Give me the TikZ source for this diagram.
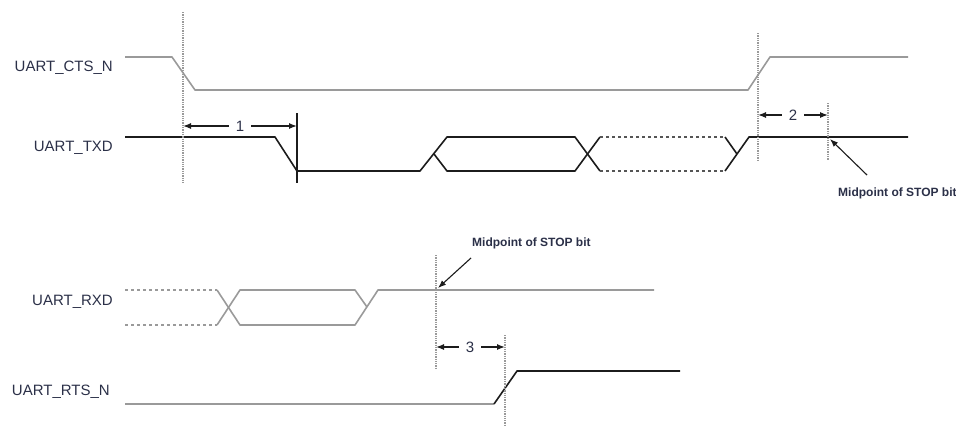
\documentclass[tikz,border=0pt]{standalone}
\usepackage{fontspec}
\setmainfont{Liberation Sans}
\usetikzlibrary{arrows.meta}
\definecolor{sgray}{HTML}{9A9A9A}
\definecolor{sdark}{HTML}{1C1C1C}
\definecolor{smid}{HTML}{555555}
\definecolor{lbl}{HTML}{2B3048}

\begin{document}
\begin{tikzpicture}[x=1pt, y=-1pt,
    every node/.style={inner sep=0pt, text=lbl, font=\fontsize{15}{17}\selectfont},
    wave/.style={line width=1.6pt, line join=round},
    marker/.style={sgray, line width=1.3pt, densely dotted},
    dim/.style={{Latex[length=8pt,width=6pt]}-, line width=1.3pt, sdark},
    pointer/.style={-{Latex[length=8pt,width=6pt]}, line width=1.1pt, sdark},
    note/.style={font=\fontsize{12}{14}\selectfont\bfseries, text=lbl}]
    \useasboundingbox (0,0) rectangle (956,426);

    % signal names
    \node[anchor=east] (cts) at (113,68) {UART\_CTS\_N};
    \node[anchor=east] (txd) at (113,148) {UART\_TXD};
    \node[anchor=east] (rxd) at (113,302) {UART\_RXD};
    \node[anchor=east] (rts) at (110,392) {UART\_RTS\_N};

    % UART_CTS_N
    \draw[wave, sgray] (125,57) -- (172,57) -- (195,90) -- (748,90) -- (770,57) -- (908,57);

    % UART_TXD
    \draw[wave, sdark] (125,137) -- (275,137) -- (297,171) -- (420,171) -- (447,137) -- (575,137) -- (600,171);
    \draw[wave, sdark] (434,154) -- (447,171) -- (575,171) -- (600,137);
    \draw[wave, smid, dashed] (600,137) -- (725,137);
    \draw[wave, smid, dashed] (600,171) -- (725,171);
    \draw[wave, sdark] (725,137) -- (737,154);
    \draw[wave, sdark] (725,171) -- (749,137) -- (908,137);

    % UART_RXD
    \draw[wave, sgray, dashed] (125,290) -- (217,290);
    \draw[wave, sgray, dashed] (125,325) -- (217,325);
    \draw[wave, sgray] (217,290) -- (240,325) -- (355,325) -- (378,290) -- (654,290);
    \draw[wave, sgray] (217,325) -- (240,290) -- (355,290) -- (367,307);

    % UART_RTS_N
    \draw[wave, sgray] (125,404) -- (494,404);
    \draw[wave, sdark] (494,404) -- (517,371) -- (680,371);

    % reference lines
    \draw[marker] (183,12) -- (183,183);
    \draw[marker] (758,33) -- (758,160);
    \draw[marker] (828,103) -- (828,160);
    \draw[marker] (436,255) -- (436,368);
    \draw[marker] (505,335) -- (505,426);
    \draw[line width=1.1pt, sdark] (297,113) -- (297,183);

    % delays
    \node (d1) at (240,126) {1};
    \node (d2) at (793,115) {2};
    \node (d3) at (470,347) {3};
    \coordinate (m1a) at (183,126);
    \coordinate (m1b) at (297,126);
    \coordinate (m2a) at (758,115);
    \coordinate (m2b) at (828,115);
    \coordinate (m3a) at (436,347);
    \coordinate (m3b) at (505,347);
    \draw[dim] (m1a) -- ([xshift=-7pt]d1.west);
    \draw[dim] (m1b) -- ([xshift=7pt]d1.east);
    \draw[dim] (m2a) -- ([xshift=-7pt]d2.west);
    \draw[dim] (m2b) -- ([xshift=7pt]d2.east);
    \draw[dim] (m3a) -- ([xshift=-7pt]d3.west);
    \draw[dim] (m3b) -- ([xshift=7pt]d3.east);

    % stop bit notes
    \node[note, anchor=west] (stop1) at (838,193) {Midpoint of STOP bit};
    \node[note, anchor=west] (stop2) at (472,243) {Midpoint of STOP bit};
    \coordinate (s1) at (830,139);
    \coordinate (s2) at (438,288);
    \draw[pointer] (867,175) -- (s1);
    \draw[pointer] (471,258) -- (s2);
\end{tikzpicture}
\end{document}
